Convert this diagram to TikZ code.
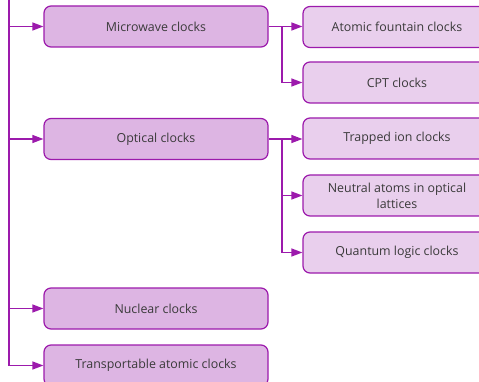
\documentclass[tikz,border=0pt]{standalone}
\usepackage{fontspec}
\setmainfont{Open Sans}
\usetikzlibrary{arrows.meta}
\definecolor{linecol}{HTML}{9C1AAC}
\definecolor{leftfill}{HTML}{DDB5E3}
\definecolor{rightfill}{HTML}{E9CFED}
\definecolor{txtcol}{HTML}{3A3A3A}
\begin{document}
\begin{tikzpicture}[x=1pt,y=-1pt,
  mainbox/.style={draw=linecol,line width=1.2pt,fill=leftfill,rounded corners=7pt,
    minimum width=224pt,minimum height=41pt,inner sep=0pt,text=txtcol,
    font=\fontsize{12.4}{16}\selectfont,align=center},
  subbox/.style={mainbox,fill=rightfill,minimum width=188pt},
  link/.style={draw=linecol,line width=1.3pt,-{Triangle[length=11pt,width=8pt]}},
  plain/.style={draw=linecol,line width=1.3pt}]
\clip (0,0) rectangle (479,382);
\useasboundingbox (0,0) rectangle (479,382);
% first level
\node[mainbox] (mw) at (156,26.5) {Microwave clocks};
\node[mainbox] (op) at (156,139) {Optical clocks};
\node[mainbox] (nu) at (156,308.5) {Nuclear clocks};
\node[mainbox] (tr) at (156,365.5) {Transportable atomic clocks};
% second level
\node[subbox] (af) at (397,27) {Atomic fountain clocks};
\node[subbox] (cpt) at (397,82.5) {CPT clocks};
\node[subbox] (ti) at (397,138.5) {Trapped ion clocks};
\node[subbox] (na) at (397,195.5) {Neutral atoms in optical\\lattices};
\node[subbox] (ql) at (397,252.5) {Quantum logic clocks};
% trunk on the left
\coordinate (top) at (9,-5);
\coordinate (bot) at (9,365.5);
\draw[plain] (top) -- (bot);
\draw[link] (9,26.5) -- (mw.west);
\draw[link] (9,139) -- (op.west);
\draw[link] (9,308.5) -- (nu.west);
\draw[link] (bot) -- (tr.west);
% microwave branch
\coordinate (mj) at (282,26.5);
\draw[link] (mw.east) -- (af.west |- mj);
\draw[link] (mj) |- (cpt.west);
% optical branch
\coordinate (oj) at (282,139);
\draw[link] (op.east) -- (ti.west |- oj);
\draw[link] (oj) |- (na.west);
\draw[link] (oj) |- (ql.west);
\end{tikzpicture}
\end{document}
